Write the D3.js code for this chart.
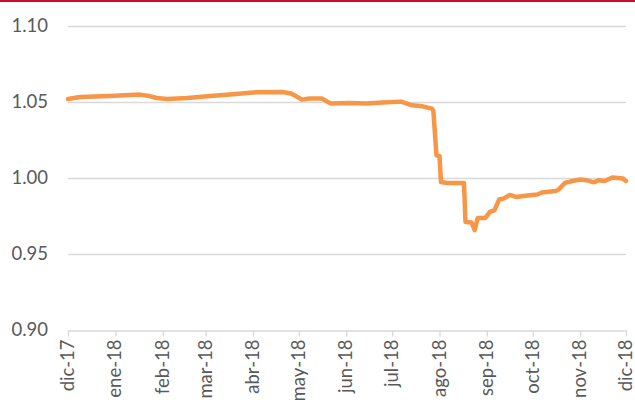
<!DOCTYPE html>
<html>
<head>
<meta charset="utf-8">
<script src="https://cdn.jsdelivr.net/npm/d3@7"></script>
<style>
  html, body { margin: 0; padding: 0; background: #fff; }
  svg { display: block; }
</style>
</head>
<body>
<svg id="chart" width="635" height="400"></svg>
<script>
// Exchange-rate series, Dec 2017 – Dec 2018
const dates = [
  "2017-12-01","2017-12-09","2017-12-28","2018-01-17","2018-01-22","2018-01-28",
  "2018-02-04","2018-02-17","2018-03-04","2018-03-19","2018-04-03","2018-04-20",
  "2018-04-26","2018-05-03","2018-05-08","2018-05-16","2018-05-22","2018-06-03",
  "2018-06-14","2018-06-25","2018-07-07","2018-07-14","2018-07-21","2018-07-27",
  "2018-07-28","2018-07-30","2018-08-01","2018-08-02","2018-08-06","2018-08-17",
  "2018-08-18","2018-08-22","2018-08-24","2018-08-26","2018-08-31","2018-09-03",
  "2018-09-06","2018-09-09","2018-09-12","2018-09-16","2018-09-20","2018-09-29",
  "2018-10-04","2018-10-07","2018-10-16","2018-10-18","2018-10-22","2018-10-27",
  "2018-11-01","2018-11-05","2018-11-10","2018-11-13","2018-11-17","2018-11-22",
  "2018-11-29","2018-12-01"
];
const values = [
  1.0517,1.0530,1.0537,1.0546,1.0539,1.0524,
  1.0517,1.0524,1.0537,1.0548,1.0561,1.0563,
  1.0553,1.0513,1.0520,1.0520,1.0487,1.0491,
  1.0487,1.0495,1.0500,1.0476,1.0469,1.0454,
  1.0440,1.0148,1.0143,0.9972,0.9966,0.9966,
  0.9710,0.9706,0.9656,0.9736,0.9736,0.9776,
  0.9787,0.9857,0.9864,0.9887,0.9874,0.9885,
  0.9890,0.9903,0.9913,0.9923,0.9966,0.9979,
  0.9988,0.9984,0.9970,0.9984,0.9979,1.0001,
  0.9995,0.9979
];
const yTicks = [0.90, 0.95, 1.00, 1.05, 1.10];
const monthLabels = ["dic-17","ene-18","feb-18","mar-18","abr-18","may-18","jun-18",
                     "jul-18","ago-18","sep-18","oct-18","nov-18","dic-18"];

const parse = d3.timeParse("%Y-%m-%d");
const series = dates.map((d, i) => ({ date: parse(d), value: values[i] }));

const svg = d3.select("#chart");
const margin = { left: 68, right: 9, top: 25.5, bottom: 70 };
const W = 635, H = 400;
const font = "Lato, 'Open Sans', sans-serif";

const x = d3.scaleTime()
  .domain([new Date(2017, 11, 1), new Date(2018, 11, 1)])
  .range([margin.left, W - margin.right]);
const y = d3.scaleLinear()
  .domain([0.90, 1.10])
  .range([H - margin.bottom, margin.top]);

// top accent rule
svg.append("rect").attr("x", 0).attr("y", 0).attr("width", W).attr("height", 2)
  .attr("fill", "#c8102e");

// horizontal gridlines (except the baseline)
svg.append("g").selectAll("line")
  .data(yTicks.filter(t => t > 0.90))
  .join("line")
  .attr("x1", x.range()[0]).attr("x2", x.range()[1])
  .attr("y1", d => Math.round(y(d)) + 0.5).attr("y2", d => Math.round(y(d)) + 0.5)
  .attr("stroke", "#d9d9d9").attr("stroke-width", 1.3);

// y-axis labels
const yAxis = d3.axisLeft(y).tickValues(yTicks).tickFormat(d3.format(".2f")).tickSize(0).tickPadding(0);
const yg = svg.append("g").attr("transform", `translate(48,0)`).call(yAxis);
yg.select(".domain").remove();
yg.selectAll("text")
  .attr("font-family", font)
  .attr("font-size", 18.5).attr("fill", "#595959");

// x axis with monthly ticks
const monthTicks = d3.timeMonth.range(new Date(2017, 11, 1), new Date(2018, 11, 2));
const xAxis = d3.axisBottom(x).tickValues(monthTicks)
  .tickFormat((d, i) => monthLabels[i]).tickSize(6).tickSizeOuter(0);
const xg = svg.append("g")
  .attr("transform", `translate(0,${Math.round(y(0.90)) + 0.5})`)
  .call(xAxis);
xg.select(".domain").attr("stroke", "#d9d9d9").attr("stroke-width", 1.3);
xg.selectAll(".tick line").attr("stroke", "#d9d9d9").attr("stroke-width", 1.3);
xg.selectAll("text")
  .attr("font-family", font)
  .attr("font-size", 18.5).attr("fill", "#595959")
  .attr("text-anchor", "end")
  .attr("transform", "rotate(-90)")
  .attr("x", -9).attr("y", 0).attr("dy", "0.30em");

// series line
const line = d3.line().x(d => x(d.date)).y(d => y(d.value)).curve(d3.curveLinear);
svg.append("path")
  .datum(series)
  .attr("d", line)
  .attr("fill", "none")
  .attr("stroke", "#f79646")
  .attr("stroke-width", 4.5)
  .attr("stroke-linejoin", "round")
  .attr("stroke-linecap", "round");
</script>
</body>
</html>
